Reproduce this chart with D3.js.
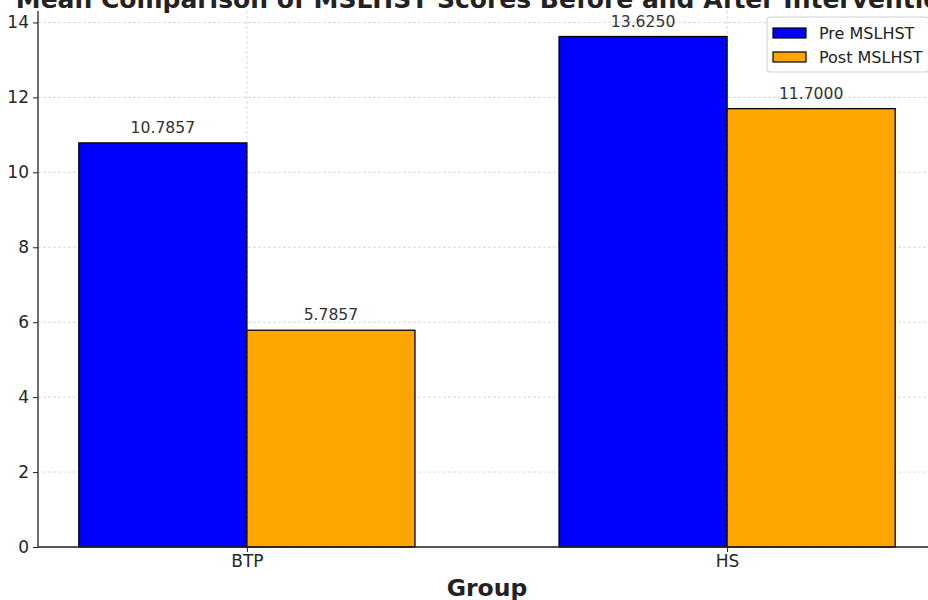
<!DOCTYPE html>
<html>
<head>
<meta charset="utf-8">
<script src="https://cdn.jsdelivr.net/npm/d3@7"></script>
<style>
  html, body { margin: 0; padding: 0; background: #fff; }
  svg { display: block; font-family: "DejaVu Sans", sans-serif; }
</style>
</head>
<body>
<svg id="chart" width="928" height="600"></svg>
<script>
// Groups and mean MSLHST scores before/after the intervention
const groups = ["BTP", "HS"];
const seriesNames = ["Pre MSLHST", "Post MSLHST"];
const preScores = [10.7857, 13.6250];
const postScores = [5.7857, 11.7000];
const seriesColors = ["#0000ff", "#ffa500"];
const yTicks = [0, 2, 4, 6, 8, 10, 12, 14];

const title = "Mean Comparison of MSLHST Scores Before and After Intervention";
const xLabel = "Group";

const series = [preScores, postScores];

const svg = d3.select("#chart");
const plot = { left: 38, right: 936, top: 11, bottom: 547 };

// Group positions 0..n-1 with bar width 0.35, plus 5% padding on each side
const barW = 0.35;
const xMin = -barW, xMax = groups.length - 1 + barW;
const xPad = (xMax - xMin) * 0.05;
const x = d3.scaleLinear().domain([xMin - xPad, xMax + xPad]).range([plot.left, plot.right]);

const maxVal = d3.max(series.flat());
const y = d3.scaleLinear().domain([0, maxVal * 1.05]).range([plot.bottom, plot.top]);

// Grid lines
const grid = svg.append("g").attr("stroke", "#cfcfcf").attr("stroke-width", 0.8).attr("stroke-dasharray", "3,2");
yTicks.forEach(t => {
  grid.append("line").attr("x1", plot.left).attr("x2", plot.right).attr("y1", y(t)).attr("y2", y(t));
});
groups.forEach((g, i) => {
  grid.append("line").attr("x1", x(i)).attr("x2", x(i)).attr("y1", plot.top).attr("y2", plot.bottom);
});

// Bars
const bars = svg.append("g");
series.forEach((vals, s) => {
  vals.forEach((v, i) => {
    const x0 = s === 0 ? x(i - barW) : x(i);
    const x1 = s === 0 ? x(i) : x(i + barW);
    bars.append("rect")
      .attr("x", x0).attr("y", y(v))
      .attr("width", x1 - x0).attr("height", y(0) - y(v))
      .attr("fill", seriesColors[s])
      .attr("stroke", "#000").attr("stroke-width", 1.3);
  });
});

// Dashed vertical grid shows through on top of the shared bar edge
groups.forEach((g, i) => {
  svg.append("line").attr("x1", x(i)).attr("x2", x(i))
    .attr("y1", y(preScores[i])).attr("y2", plot.bottom)
    .attr("stroke", "#555").attr("stroke-width", 0.8).attr("stroke-dasharray", "3,2").attr("opacity", 0.6);
});

// Value labels
const labels = svg.append("g").attr("font-size", 15.6).attr("fill", "#333").attr("text-anchor", "middle");
series.forEach((vals, s) => {
  vals.forEach((v, i) => {
    const cx = s === 0 ? x(i - barW / 2) : x(i + barW / 2);
    labels.append("text").attr("x", cx).attr("y", y(v) - 10).text(v.toFixed(4));
  });
});

// Axes
const yAxis = d3.axisLeft(y).tickValues(yTicks).tickSize(5).tickPadding(4).tickFormat(d3.format("d"));
const yg = svg.append("g").attr("transform", `translate(${plot.left},0)`).call(yAxis);
yg.select(".domain").attr("stroke", "#222").attr("stroke-width", 1.3).attr("d", `M0,${plot.top}V${plot.bottom}`);
yg.selectAll(".tick line").attr("stroke", "#222").attr("stroke-width", 1);
yg.selectAll(".tick text").attr("font-size", 17).attr("fill", "#262626").attr("font-family", "DejaVu Sans");

const xAxis = d3.axisBottom(x).tickValues(groups.map((g, i) => i)).tickSize(5).tickPadding(3).tickFormat(i => groups[i]);
const xg = svg.append("g").attr("transform", `translate(0,${plot.bottom})`).call(xAxis);
xg.select(".domain").attr("stroke", "#222").attr("stroke-width", 1.3).attr("d", `M${plot.left},0H${plot.right}`);
xg.selectAll(".tick line").attr("stroke", "#222").attr("stroke-width", 1);
xg.selectAll(".tick text").attr("font-size", 17).attr("fill", "#262626").attr("font-family", "DejaVu Sans");

// Axis title
const midX = (plot.left + plot.right) / 2;
svg.append("text").attr("x", midX).attr("y", 596).attr("text-anchor", "middle")
  .attr("font-size", 23.5).attr("font-weight", "bold").attr("fill", "#222").text(xLabel);

// Chart title
svg.append("text").attr("x", midX).attr("y", 8).attr("text-anchor", "middle")
  .attr("font-size", 25).attr("font-weight", "bold").attr("fill", "#222").text(title);

// Legend
const lg = svg.append("g").attr("transform", "translate(767,17)");
lg.append("rect").attr("width", 162).attr("height", 55).attr("rx", 3)
  .attr("fill", "#fff").attr("fill-opacity", 0.8).attr("stroke", "#d0d0d0");
seriesNames.forEach((name, s) => {
  const row = lg.append("g").attr("transform", `translate(6,${11 + s * 24})`);
  row.append("rect").attr("width", 33).attr("height", 10)
    .attr("fill", seriesColors[s]).attr("stroke", "#000").attr("stroke-width", 1.2);
  row.append("text").attr("x", 46).attr("y", 10.5).attr("font-size", 16).attr("fill", "#222").text(name);
});
</script>
</body>
</html>
